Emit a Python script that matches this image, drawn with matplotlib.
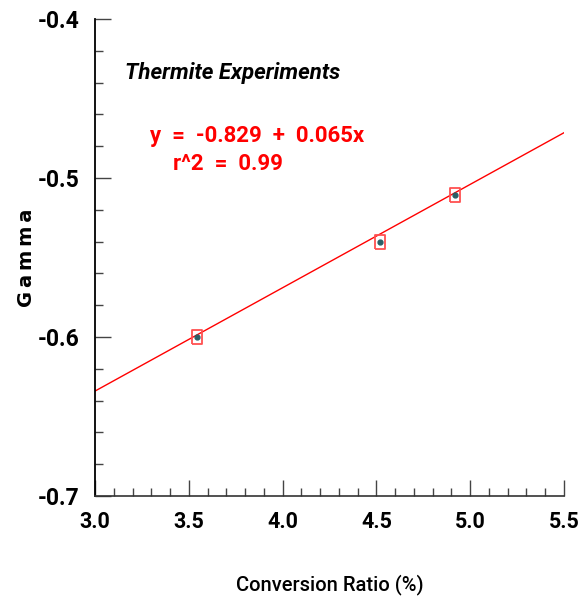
import matplotlib.pyplot as plt
from matplotlib.ticker import MultipleLocator

# measured points (conversion ratio %, gamma)
conv_ratio = [3.545, 4.52, 4.92]
gamma = [-0.600, -0.540, -0.5105]

# fit line coefficients
intercept = -0.829
slope = 0.065
fit_x = [3.0, 5.5]

x_ticks = [3.0, 3.5, 4.0, 4.5, 5.0, 5.5]
y_ticks = [-0.7, -0.6, -0.5, -0.4]

narrow = ["Roboto", "DejaVu Sans"]
box = [(-0.33, -0.5), (0.33, -0.5), (0.33, 0.5), (-0.33, 0.5), (-0.33, -0.5)]

fig = plt.figure(figsize=(5.78, 6.04), dpi=100)
ax = fig.add_axes([0.1644, 0.1788, 0.8114, 0.7897])

fit_y = [intercept + slope * x for x in fit_x]
ax.plot(fit_x, fit_y, color="red", lw=1.0, zorder=2)
ax.plot(conv_ratio, gamma, ls="none", marker=box, ms=10, mfc="none",
        mec="#ff5050", mew=1.3, zorder=3)
ax.plot(conv_ratio, gamma, ls="none", marker="o", ms=3.5, color="#2a5f66", zorder=4)

ax.set_xlim(3.0, 5.5)
ax.set_ylim(-0.7, -0.4)
ax.set_xticks(x_ticks)
ax.set_yticks(y_ticks)
ax.set_xticklabels([f"{v:.1f}" for v in x_ticks])
ax.set_yticklabels([f"{v:.1f}" for v in y_ticks])
ax.xaxis.set_minor_locator(MultipleLocator(0.1))
ax.yaxis.set_minor_locator(MultipleLocator(0.02))

ax.spines["top"].set_visible(False)
ax.spines["right"].set_visible(False)
ax.spines["left"].set_linewidth(1.3)
ax.spines["bottom"].set_linewidth(1.2)
ax.spines["bottom"].set_color("#333333")

ax.tick_params(which="major", direction="in", length=11.5, width=1.0,
               color="#444444", pad=11)
ax.tick_params(which="minor", direction="in", length=5.8, width=1.0,
               color="#444444")
for lab in ax.get_yticklabels():
    lab.set_family(narrow)
    lab.set_fontsize(16.5)
    lab.set_fontweight("bold")
for lab in ax.get_xticklabels():
    lab.set_family(narrow)
    lab.set_fontsize(15.5)
    lab.set_fontweight("bold")

ax.set_xlabel("Conversion Ratio (%)", family=narrow, fontsize=14.5,
              fontweight="medium")
ax.xaxis.set_label_coords(0.5, -0.186)
ax.xaxis.label.set_va("center")
ax.set_ylabel("G\u2009a\u2009m\u2009m\u2009a", family="DejaVu Sans",
              fontsize=14, fontweight="bold")
ax.yaxis.set_label_coords(-0.146, 0.5)
ax.yaxis.label.set_va("center")

ax.text(0.064, 0.887, "Thermite Experiments", transform=ax.transAxes,
        family=narrow, fontsize=16, fontweight="bold", style="italic",
        ha="left", va="center")
ax.text(0.345, 0.755, "y  =  -0.829  +  0.065x", transform=ax.transAxes,
        family=narrow, fontsize=16, fontweight="bold", color="red",
        ha="center", va="center")
ax.text(0.284, 0.697, "r^2  =  0.99", transform=ax.transAxes,
        family=narrow, fontsize=16, fontweight="bold", color="red",
        ha="center", va="center")

fig.savefig("out.png", dpi=100)
